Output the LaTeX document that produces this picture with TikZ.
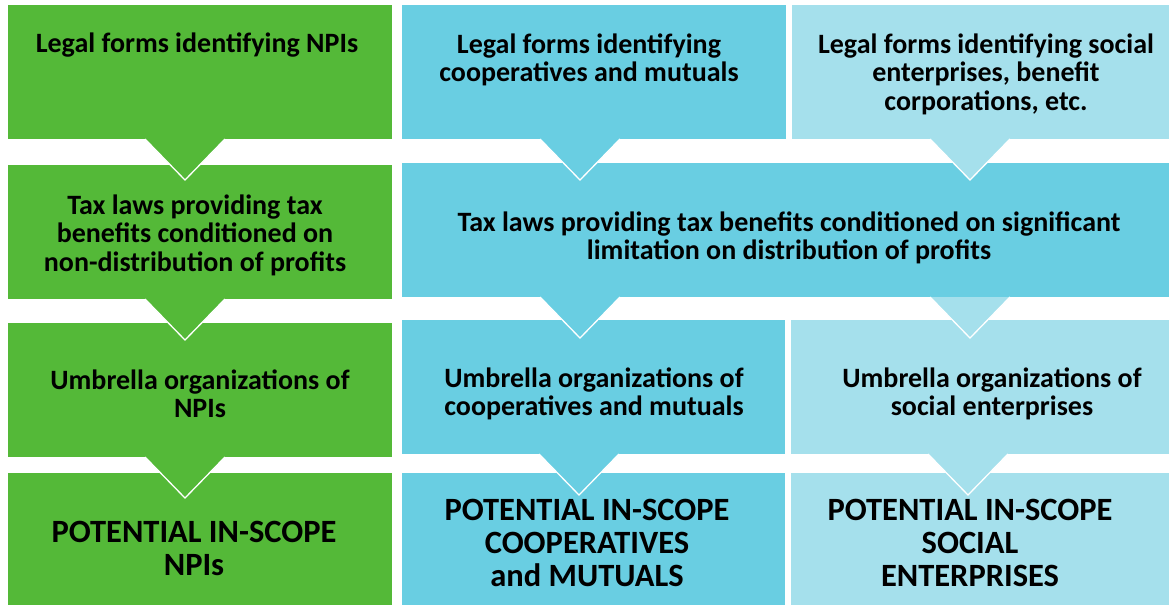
\documentclass[tikz,border=0pt]{standalone}
\usepackage{fontspec}
\setmainfont{Carlito}
\usetikzlibrary{calc}
\definecolor{npigreen}{RGB}{84,185,56}
\definecolor{coopblue}{RGB}{105,206,226}
\definecolor{socblue}{RGB}{165,224,236}
% down-pointing chevron under a box: top centre, colour
\newcommand{\chevron}[2]{%
  \fill[#2] ($(#1)+(-40,0)$) -- ($(#1)+(40,0)$) -- ($(#1)+(0,41)$) -- cycle;
  \draw[white,line width=1.3pt] ($(#1)+(-40,0)$) -- ($(#1)+(0,41)$) -- ($(#1)+(40,0)$);}
\begin{document}
\begin{tikzpicture}[x=1pt,y=-1pt,
    box/.style={rectangle,inner sep=0pt,outer sep=0pt,anchor=north west},
    txt/.style={align=center,inner sep=0pt,font=\fontsize{28}{28.5}\selectfont\bfseries},
    bigtxt/.style={align=center,inner sep=0pt,font=\fontsize{32.5}{33}\selectfont\bfseries}]
  \useasboundingbox (0,0) rectangle (1169,605);
  % green column (NPIs)
  \node[box,fill=npigreen,minimum width=384pt,minimum height=134pt] (legalnpi) at (8,5) {};
  \node[box,fill=npigreen,minimum width=384pt,minimum height=134pt] (taxnpi) at (8,165) {};
  \node[box,fill=npigreen,minimum width=384pt,minimum height=134pt] (umbnpi) at (8,323) {};
  \node[box,fill=npigreen,minimum width=384pt,minimum height=132pt] (scopenpi) at (8,473) {};
  % blue column (cooperatives and mutuals)
  \node[box,fill=coopblue,minimum width=384pt,minimum height=134pt] (legalcoop) at (402,5) {};
  \node[box,fill=coopblue,minimum width=767pt,minimum height=134pt] (taxshared) at (402,163) {};
  \node[box,fill=coopblue,minimum width=383pt,minimum height=134pt] (umbcoop) at (402,320) {};
  \node[box,fill=coopblue,minimum width=383pt,minimum height=132pt] (scopecoop) at (402,473) {};
  % light column (social enterprises)
  \node[box,fill=socblue,minimum width=377pt,minimum height=134pt] (legalsoc) at (792,5) {};
  \node[box,fill=socblue,minimum width=378pt,minimum height=134pt] (umbsoc) at (791,320) {};
  \node[box,fill=socblue,minimum width=378pt,minimum height=132pt] (scopesoc) at (791,473) {};
  % chevrons between the rows
  \coordinate (c1) at ($(legalnpi.south west)+(177,0)$);
  \coordinate (c2) at ($(taxnpi.south west)+(177,0)$);
  \coordinate (c3) at ($(umbnpi.south west)+(177,0)$);
  \coordinate (c4) at ($(legalcoop.south west)+(178,0)$);
  \coordinate (c5) at ($(taxshared.south west)+(178,0)$);
  \coordinate (c6) at ($(umbcoop.south west)+(177,0)$);
  \coordinate (c7) at ($(legalsoc.south west)+(178,0)$);
  \coordinate (c8) at ($(taxshared.south west)+(568,0)$);
  \coordinate (c9) at ($(umbsoc.south west)+(177,0)$);
  \chevron{c1}{npigreen} \chevron{c2}{npigreen} \chevron{c3}{npigreen}
  \chevron{c4}{coopblue} \chevron{c5}{coopblue} \chevron{c6}{coopblue}
  \chevron{c7}{socblue} \chevron{c8}{socblue} \chevron{c9}{socblue}
  % texts
  \node[txt] (tlegalnpi) at (197,45) {Legal forms identifying NPIs};
  \node[txt] (tlegalcoop) at (589,60) {Legal forms identifying\\cooperatives and mutuals};
  \node[txt] (tlegalsoc) at (986,74) {Legal forms identifying social\\enterprises, benefit\\corporations, etc.};
  \node[txt] (ttaxnpi) at (195,235) {Tax laws providing tax\\benefits conditioned on\\non-distribution of profits};
  \node[txt] (ttaxshared) at (789,238) {Tax laws providing tax benefits conditioned on significant\\limitation on distribution of profits};
  \node[txt] (tumbnpi) at (200,394) {Umbrella organizations of\\NPIs};
  \node[txt] (tumbcoop) at (594,394) {Umbrella organizations of\\cooperatives and mutuals};
  \node[txt] (tumbsoc) at (992,394) {Umbrella organizations of\\social enterprises};
  \node[bigtxt] (tscopenpi) at (194,548) {POTENTIAL IN-SCOPE\\NPIs};
  \node[bigtxt] (tscopecoop) at (587,543) {POTENTIAL IN-SCOPE\\COOPERATIVES\\and MUTUALS};
  \node[bigtxt] (tscopesoc) at (970,543) {POTENTIAL IN-SCOPE\\SOCIAL\\ENTERPRISES};
\end{tikzpicture}
\end{document}
